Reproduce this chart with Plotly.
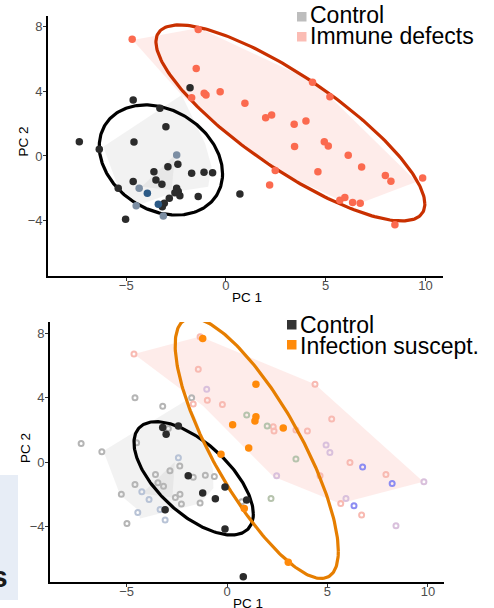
import numpy as np
import plotly.graph_objects as go

W, H = 494, 608

# ---------------- DATA ----------------
# Top panel: filled points
top_immune_x = [-4.7, -1.39, -1.49, -1.72, -1.09, -1.0, -0.29, 0.95, 1.99, 2.29, 3.42, 4.01, 4.34, 5.21,
                3.44, 4.93, 5.13, 6.13, 6.8, 4.61, 2.47, 2.19, 7.99, 8.27, 9.86, 5.71, 5.96, 6.35, 6.73, 8.47]
top_immune_y = [7.2, 7.8, 5.4, 3.6, 3.87, 3.76, 3.97, 3.25, 2.36, 2.53, 1.95, 2.16, 4.55, 3.66,
                0.58, 0.88, 0.62, 0.04, -0.68, -0.97, -0.9, -1.79, -1.21, -1.56, -1.36, -2.74, -2.57, -2.88, -2.92, -4.24]
top_control_x = [-1.8, -4.65, -3.31, -3.01, -7.35, -4.61, -6.35, -2.91, -2.41, -3.61, -1.72, -1.1, -0.67,
                 -4.65, -3.51, -3.21, -2.47, -2.39, -2.56, -2.31, -2.84, -1.39, -3.09, -3.19, -5.4, -5.03, 0.7]
top_control_y = [4.21, 3.46, 2.94, 1.81, 0.88, 0.86, 0.41, -0.66, -0.51, -0.97, -1.07, -1.0, -1.03,
                 -1.58, -1.48, -1.75, -1.99, -2.2, -2.27, -2.45, -2.61, -2.51, -2.92, -3.13, -1.99, -3.91, -2.35]
top_bluegray_x = [-2.47, -4.35, -4.5, -3.14]
top_bluegray_y = [0.06, -1.99, -3.07, -3.7]
top_blue_x = [-3.94, -3.39]
top_blue_y = [-2.3, -2.98]

# Top panel hulls (vertices)
top_gray_hull_x = [-6.15, -2.22, -1.05, -0.72, -0.89, -2.47, -4.3, -5.41]
top_gray_hull_y = [0.57, 3.77, 0.78, -0.66, -1.9, -2.2, -3.0, -1.9]
top_gray_inner_x = [-4.23, -2.56, -2.72]
top_gray_inner_y = [-1.9, 0.06, -2.1]
top_pink_hull_x = [-4.68, -1.35, 4.38, 5.21, 9.56, 6.72, 5.71, 2.46, -2.14]
top_pink_hull_y = [7.16, 7.9, 4.59, 3.66, -1.59, -2.92, -2.72, -0.86, 3.66]

# Top panel ellipses: centre x, centre y, sd x, sd y, correlation
top_ctrl_ell = [-3.26, -0.25, 3.09, 3.40, -0.25]
top_imm_ell = [3.23, 2.04, 6.74, 6.05, -0.827]

# Bottom panel: filled points
bot_infect_x = [-1.21, 1.44, 1.44, 1.39, 0.28, 2.8, 1.08, -0.3, 0.86, 3.05]
bot_infect_y = [7.68, 4.84, 2.82, 2.55, 2.32, 2.11, 0.87, 0.48, -2.88, -6.23]
bot_control_x = [-3.2, -2.42, -3.03, -1.93, -1.21, -0.58, -0.1, 0.98, -0.1, 0.81, -3.08]
bot_control_y = [2.15, 2.24, 1.72, -0.85, -1.92, -2.28, -1.55, -2.36, -4.16, -7.12, -2.96]

# Bottom panel: open rings (all samples)
ring_gray_x = [-4.58, -3.2, -1.76, -7.26, -6.23, -4.5, -2.92, -2.35, -2.84, -3.56, -1.68, -1.08, -0.63,
               -4.58, -3.44, -3.16, -5.26, -2.57, -2.34, -2.27, -1.34, -4.98, 0.73, -3.08]
ring_gray_y = [3.99, 3.47, 3.99, 1.16, 0.64, 1.2, 2.09, -0.24, -0.54, -0.77, -0.95, -0.82, -0.89,
               -1.39, -1.28, -1.51, -2.0, -2.2, -2.0, -2.61, -2.55, -3.81, -2.47, -2.96]
ring_bluegray_x = [-2.42, -4.24, -3.88, -4.44, -3.33, -3.08]
ring_bluegray_y = [0.27, -1.84, -2.32, -3.13, -2.94, -3.6]
ring_pink_x = [-4.63, -1.34, -1.43, -1.68, -0.98, -0.23, 2.3, 2.34, 3.43, 4.0, 4.38, 5.21, 6.12, 4.63, 7.91, 5.66, 6.7]
ring_pink_y = [6.71, 7.78, 5.76, 3.6, 3.84, 3.58, 2.19, 1.93, 1.99, 1.93, 4.83, 2.67, -0.02, -0.85, -0.77, -2.57, -3.29]
ring_purple_x = [-1.01, 4.93, 5.12, 2.47, 5.92, 9.8, 8.41]
ring_purple_y = [4.52, 1.06, 0.6, -0.85, -2.26, -1.22, -3.96]
ring_blue_x = [6.75, 8.22, 6.32]
ring_blue_y = [-0.31, -1.33, -2.71]
ring_green_x = [0.98, 2.0, 3.43, 2.19]
ring_green_y = [2.92, 2.24, 0.19, -2.26]

# Bottom panel hulls
bot_gray_hull_x = [-6.15, -2.0, -1.5, -0.7, -0.68, -1.34, -4.33, -4.45, -5.32]
bot_gray_hull_y = [0.68, 3.85, 2.6, -0.45, -1.63, -2.57, -3.5, -2.95, -2.05]
bot_gray_inner_x = [-4.23, -2.6, -2.72]
bot_gray_inner_y = [-1.95, 0.0, -2.2]
bot_pink_hull_x = [-4.63, -1.34, 4.38, 9.77, 5.62, 2.3, -1.2]
bot_pink_hull_y = [6.71, 7.8, 4.83, -1.22, -2.57, -0.9, 3.5]

# Bottom panel ellipses
bot_ctrl_ell = [-1.66, -1.01, 2.97, 3.52, -0.63]
bot_inf_ell = [1.48, 0.86, 4.06, 8.09, -0.79]

# Axes
x_ticks = [-5, 0, 5, 10]
y_ticks = [-4, 0, 4, 8]
top_xrange = [-8.92, 10.88]
top_yrange = [-7.41, 8.64]
bot_xrange = [-8.81, 10.80]
bot_yrange = [-7.45, 8.70]
x_title = "PC 1"
y_title = "PC 2"

top_legend = ["Control", "Immune defects"]
bot_legend = ["Control", "Infection suscept."]

# ---------------- STYLE ----------------
FONT = "Liberation Sans, Arial, sans-serif"
C_BLACKPT = "#2b2b2b"
C_RED = "#fb6a4f"
C_REDELL = "#c93000"
C_ORANGE = "#ff8a0a"
C_ORANGEELL = "#e67e00"
HULL_GRAY = "rgba(185,185,185,0.18)"
HULL_PINK = "rgba(250,128,114,0.15)"


def ellipse(p, n=240):
    cx, cy, sx, sy, r = p
    t = np.linspace(0, 2 * np.pi, n)
    x = cx + sx * np.cos(t)
    y = cy + sy * (r * np.cos(t) + np.sqrt(1 - r * r) * np.sin(t))
    return x, y


fig = go.Figure()


def add(trace, panel):
    if panel == 1:
        trace.update(xaxis="x", yaxis="y")
    else:
        trace.update(xaxis="x2", yaxis="y2")
    fig.add_trace(trace)


def hull(xs, ys, color, panel):
    add(go.Scatter(x=xs + [xs[0]], y=ys + [ys[0]], mode="lines", fill="toself",
                   fillcolor=color, line=dict(width=0), hoverinfo="skip", showlegend=False), panel)


def ell(p, color, panel):
    x, y = ellipse(p)
    add(go.Scatter(x=x, y=y, mode="lines", line=dict(color=color, width=3.2),
                   hoverinfo="skip", showlegend=False), panel)


def pts(xs, ys, color, panel, size=7.5):
    add(go.Scatter(x=xs, y=ys, mode="markers", marker=dict(color=color, size=size, line=dict(width=0)),
                   showlegend=False), panel)


def rings(xs, ys, color, panel):
    add(go.Scatter(x=xs, y=ys, mode="markers",
                   marker=dict(symbol="circle-open", color=color, size=5, line=dict(width=2, color=color)),
                   showlegend=False), panel)


# Top panel
hull(top_gray_hull_x, top_gray_hull_y, HULL_GRAY, 1)
hull(top_gray_inner_x, top_gray_inner_y, HULL_GRAY, 1)
hull(top_pink_hull_x, top_pink_hull_y, HULL_PINK, 1)
ell(top_ctrl_ell, "#000000", 1)
ell(top_imm_ell, C_REDELL, 1)
pts(top_immune_x, top_immune_y, C_RED, 1)
pts(top_control_x, top_control_y, C_BLACKPT, 1)
pts(top_bluegray_x, top_bluegray_y, "#7c8ea3", 1)
pts(top_blue_x, top_blue_y, "#2c5a86", 1)

# Bottom panel
hull(bot_gray_hull_x, bot_gray_hull_y, HULL_GRAY, 2)
hull(bot_gray_inner_x, bot_gray_inner_y, HULL_GRAY, 2)
hull(bot_pink_hull_x, bot_pink_hull_y, HULL_PINK, 2)
rings(ring_gray_x, ring_gray_y, "#b5b5b5", 2)
rings(ring_bluegray_x, ring_bluegray_y, "#b8c3d6", 2)
rings(ring_pink_x, ring_pink_y, "#f8bab2", 2)
rings(ring_purple_x, ring_purple_y, "#d9c0dc", 2)
rings(ring_blue_x, ring_blue_y, "#8c8cf2", 2)
rings(ring_green_x, ring_green_y, "#b6c3ad", 2)
ell(bot_ctrl_ell, "#000000", 2)
ell(bot_inf_ell, C_ORANGEELL, 2)
pts(bot_control_x, bot_control_y, C_BLACKPT, 2)
pts(bot_infect_x, bot_infect_y, C_ORANGE, 2)


def px(x):
    return x / W


def py(y):
    return 1 - y / H


axis_common = dict(showgrid=False, zeroline=False, showline=True, linecolor="black", linewidth=1.6,
                   ticks="outside", ticklen=3, tickwidth=1, tickcolor="#333333",
                   tickfont=dict(family=FONT, size=13, color="#4d4d4d"), mirror=False, automargin=False)
xax = dict(axis_common, ticklabelstandoff=-6)
yax = dict(axis_common, ticklabelstandoff=-2)

fig.update_layout(
    width=W, height=H, margin=dict(l=0, r=0, t=0, b=0, autoexpand=False),
    paper_bgcolor="white", plot_bgcolor="white", showlegend=False,
    xaxis=dict(domain=[px(48), px(443)], range=top_xrange, tickvals=x_ticks, anchor="y", **xax),
    yaxis=dict(domain=[py(276), py(16)], range=top_yrange, tickvals=y_ticks, anchor="x", **yax),
    xaxis2=dict(domain=[px(50), px(444)], range=bot_xrange, tickvals=x_ticks, anchor="y2", **xax),
    yaxis2=dict(domain=[py(582), py(322)], range=bot_yrange, tickvals=y_ticks, anchor="x2", **yax),
)

shapes = []
annotations = []


def text_at(x, y, text, size, angle=0, color="black", xanchor="center"):
    annotations.append(dict(xref="paper", yref="paper", x=px(x), y=py(y), text=text, textangle=angle,
                            xanchor=xanchor, yanchor="middle", showarrow=False,
                            font=dict(family=FONT, size=size, color=color)))


# axis titles
text_at(247, 297.5, x_title, 13.5)
text_at(248, 603, x_title, 13.5)
text_at(22.5, 142, y_title, 13.5, angle=-90)
text_at(25, 448, y_title, 13.5, angle=-90)


def legend_item(x_sq, y_sq, color, text, y_text):
    shapes.append(dict(type="rect", xref="paper", yref="paper", x0=px(x_sq), x1=px(x_sq + 9.5),
                       y0=py(y_sq + 9.5), y1=py(y_sq), fillcolor=color, line=dict(width=0), layer="above"))
    text_at(x_sq + 10.5, y_text, text, 23, xanchor="left")


legend_item(297, 12, "#bdbdbd", top_legend[0], 15)
legend_item(297, 32, "#fbbcb4", top_legend[1], 35.5)
legend_item(287, 320, "#333333", bot_legend[0], 325)
legend_item(287, 340, C_ORANGE, bot_legend[1], 345.5)

# Cropped slide fragment at the bottom-left
shapes.append(dict(type="rect", xref="paper", yref="paper", x0=0, x1=px(18), y0=py(600), y1=py(475),
                   fillcolor="#e7edf6", line=dict(width=0), layer="below"))
text_at(10, 576, "<b>s</b>", 30, color="#1a1a1a", xanchor="right")

fig.update_layout(shapes=shapes, annotations=annotations)
fig.write_html("out.html", config={"displayModeBar": False},
               post_script="document.body.style.margin='0';document.body.style.overflow='hidden';")
